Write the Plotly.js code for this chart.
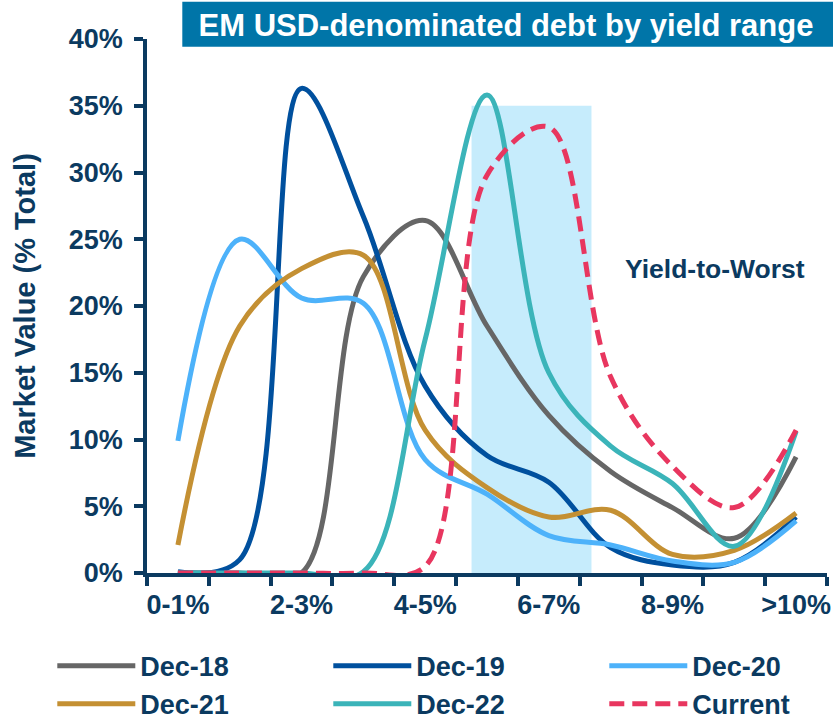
<!DOCTYPE html>
<html><head><meta charset="utf-8">
<script src="https://cdn.plot.ly/plotly-3.0.1.min.js"></script>
<style>html,body{margin:0;padding:0;background:#fff}#chart{width:833px;height:722px}</style>
</head><body><div id="chart"></div>
<script>
const categories = ['0-1%','1-2%','2-3%','3-4%','4-5%','5-6%','6-7%','7-8%','8-9%','9-10%','>10%'];
const tickLabels = ['0-1%','','2-3%','','4-5%','','6-7%','','8-9%','','>10%'];
const seriesNames = ['Dec-18','Dec-19','Dec-20','Dec-21','Dec-22','Current'];
const dec18   = [0, 0, 0, 22.2, 26.4, 18.5, 11.8, 7.6, 4.9, 2.6, 8.7];
const dec19   = [0.1, 1.0, 36.3, 26.7, 14.0, 8.8, 6.8, 1.9, 0.6, 0.8, 4.2];
const dec20   = [9.9, 25.0, 20.6, 20.2, 8.5, 5.9, 2.8, 2.1, 0.9, 0.8, 3.9];
const dec21   = [2.1, 18.5, 22.8, 23.8, 10.7, 6.4, 4.2, 4.7, 1.4, 1.7, 4.5];
const dec22   = [0, 0, 0, 0.1, 17.5, 35.8, 15.0, 9.5, 6.7, 2.0, 10.6];
const current = [0, 0, 0, 0, 0.5, 29.8, 33.4, 14.7, 8.0, 4.9, 10.7];
const yTicks = [0, 5, 10, 15, 20, 25, 30, 35, 40];
const yTickText = yTicks.map(v => v + '%');
const highlightRange = {x0: 4.75, x1: 6.69, y0: 0, y1: 35};

const FONT = 'Arial, "Liberation Sans", sans-serif';
const NAVY = '#0B3A60';
const colors = ['#666666', '#00509E', '#4DB2FA', '#C49033', '#3BB4B9', '#E8365F'];
const values = [dec18, dec19, dec20, dec21, dec22, current];

const traces = values.map((v, i) => {
  const t = {
    type: 'scatter', mode: 'lines', name: seriesNames[i],
    x: categories, y: v,
    line: {color: colors[i], width: 5, shape: 'spline', smoothing: 1,
           dash: i === 5 ? '15px,8px' : 'solid'},
    hoverinfo: 'x+y+name'
  };
  if (i === 2 || i === 5) t.legendwidth = 110;   // last legend column: keep legend inside figure
  return t;
});

const L = 146.7, T = 39.3, W = 680, H = 534;
const layout = {
  width: 833, height: 722,
  margin: {l: L, r: 833 - L - W, t: T, b: 722 - T - H, pad: 0, autoexpand: false},
  paper_bgcolor: '#ffffff', plot_bgcolor: '#ffffff',
  font: {family: FONT, color: NAVY, size: 27, weight: 'bold'},
  title: {text: 'EM USD-denominated debt by yield range', x: 506/833, xref: 'container', xanchor: 'center',
          y: 1 - 25/722, yref: 'container', yanchor: 'middle',
          font: {family: FONT, size: 31, color: '#ffffff', weight: 'bold'}},
  showlegend: true,
  legend: {orientation: 'h', x: (52 - L)/W, xanchor: 'left', y: (T + H - 642)/H, yanchor: 'top',
           font: {family: FONT, size: 27, color: NAVY, weight: 'bold'},
           itemwidth: 78, entrywidth: 183, entrywidthmode: 'pixels', traceorder: 'normal',
           bgcolor: 'rgba(0,0,0,0)', borderwidth: 0},
  xaxis: {type: 'category', tickvals: categories, ticktext: tickLabels, tickson: 'boundaries',
          range: [-0.5, 10.5], ticks: 'outside', ticklen: 9, tickwidth: 3.5, tickcolor: NAVY,
          tickangle: 0, automargin: false, ticklabelstandoff: 5,
          showline: true, linecolor: NAVY, linewidth: 3.5, showgrid: false, zeroline: false,
          layer: 'below traces', fixedrange: true,
          tickfont: {family: FONT, size: 27, color: NAVY, weight: 'bold'}},
  yaxis: {range: [0, 40], tickvals: yTicks, ticktext: yTickText, ticks: 'outside', ticklen: 9,
          tickwidth: 3.5, tickcolor: NAVY, showline: true, linecolor: NAVY, linewidth: 3.5,
          showgrid: false, zeroline: false, layer: 'below traces', fixedrange: true,
          ticklabelstandoff: 6, automargin: false,
          tickfont: {family: FONT, size: 27, color: NAVY, weight: 'bold'},
          title: {text: 'Market Value (% Total)', standoff: 26,
                  font: {family: FONT, size: 29, color: NAVY, weight: 'bold'}}},
  shapes: [
    {type: 'rect', xref: 'x', yref: 'y', x0: highlightRange.x0, x1: highlightRange.x1,
     y0: highlightRange.y0, y1: highlightRange.y1, fillcolor: '#C6ECFC', line: {width: 0}, layer: 'below'},
    {type: 'rect', xref: 'paper', yref: 'paper', x0: (182 - L)/W, x1: (833 - L)/W,
     y0: (T + H - 47)/H, y1: (T + H - 2)/H, fillcolor: '#0075A8', line: {width: 0}, layer: 'above'}
  ],
  annotations: [
    {text: 'Yield-to-Worst', xref: 'paper', yref: 'paper', x: (715 - L)/W, y: (T + H - 269)/H,
     xanchor: 'center', yanchor: 'middle', showarrow: false,
     font: {family: FONT, size: 26.5, color: NAVY, weight: 'bold'}}
  ]
};

Plotly.newPlot('chart', traces, layout, {displayModeBar: false});
</script>
</body></html>
